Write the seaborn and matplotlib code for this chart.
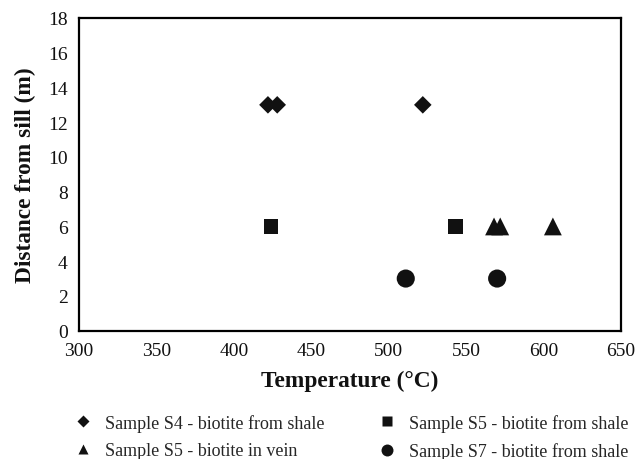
import matplotlib
matplotlib.use("Agg")
import matplotlib.pyplot as plt
from matplotlib.lines import Line2D
import seaborn as sns
import pandas as pd

# Biotite temperatures (°C) and distance from the sill (m) per sample
s4_shale_temp = [422, 428, 522]
s4_shale_dist = [13, 13, 13]
s5_shale_temp = [424, 543]
s5_shale_dist = [6, 6]
s5_vein_temp = [568, 572, 606]
s5_vein_dist = [6, 6, 6]
s7_shale_temp = [511, 570]
s7_shale_dist = [3, 3]

labels = [
    "Sample S4 - biotite from shale",
    "Sample S5 - biotite from shale",
    "Sample S5 - biotite in vein",
    "Sample S7 - biotite from shale",
]

x_ticks = [300, 350, 400, 450, 500, 550, 600, 650]
y_ticks = [0, 2, 4, 6, 8, 10, 12, 14, 16, 18]

sns.set_theme(style="white")
plt.rcParams["font.family"] = ["Liberation Serif", "DejaVu Serif"]

frames = []
for lab, t, d in zip(labels,
                     [s4_shale_temp, s5_shale_temp, s5_vein_temp, s7_shale_temp],
                     [s4_shale_dist, s5_shale_dist, s5_vein_dist, s7_shale_dist]):
    frames.append(pd.DataFrame({"Temperature": t, "Distance": d, "Sample": lab}))
df = pd.concat(frames, ignore_index=True)

markers = {labels[0]: "D", labels[1]: "s", labels[2]: "^", labels[3]: "o"}
msizes = {labels[0]: 80, labels[1]: 115, labels[2]: 165, labels[3]: 170}
ink = "#111111"

fig = plt.figure(figsize=(6.38, 4.60), dpi=100)
ax = fig.add_axes([0.1238, 0.279, 0.8496, 0.6797])

for lab in labels:
    sub = df[df["Sample"] == lab]
    sns.scatterplot(data=sub, x="Temperature", y="Distance", marker=markers[lab],
                    s=msizes[lab], color=ink, edgecolor="none", linewidth=0,
                    ax=ax, legend=False, zorder=3)

ax.set_xlim(300, 650)
ax.set_ylim(0, 18)
ax.set_xticks(x_ticks)
ax.set_yticks(y_ticks)
ax.tick_params(axis="both", direction="in", length=3, width=1.3, color="black",
               labelsize=14, labelcolor="#111111")
ax.tick_params(axis="y", pad=8)
ax.tick_params(axis="x", pad=8)
for sp in ax.spines.values():
    sp.set_visible(True)
    sp.set_color("black")
    sp.set_linewidth(1.6)

ax.set_xlabel("Temperature (°C)", fontsize=16.8, fontweight="bold", labelpad=8,
              color="#111111")
ax.set_ylabel("Distance from sill (m)", fontsize=16.8, fontweight="bold", labelpad=9,
              color="#111111")

# Legend below the axes, two columns, row-major reading order
leg_sizes = {labels[0]: 6.4, labels[1]: 6.5, labels[2]: 6.5, labels[3]: 8.6}
order = [labels[0], labels[2], labels[1], labels[3]]
handles = [Line2D([], [], linestyle="none", marker=markers[l], markersize=leg_sizes[l],
                  markerfacecolor=ink, markeredgecolor="none") for l in order]
fig.legend(handles, order, loc="upper left", bbox_to_anchor=(0.116, 0.098),
           ncol=2, frameon=False, fontsize=13, handlelength=1.0, handletextpad=0.72,
           columnspacing=2.95, labelspacing=0.58, borderaxespad=0, borderpad=0)

fig.savefig("out.png", dpi=100)
